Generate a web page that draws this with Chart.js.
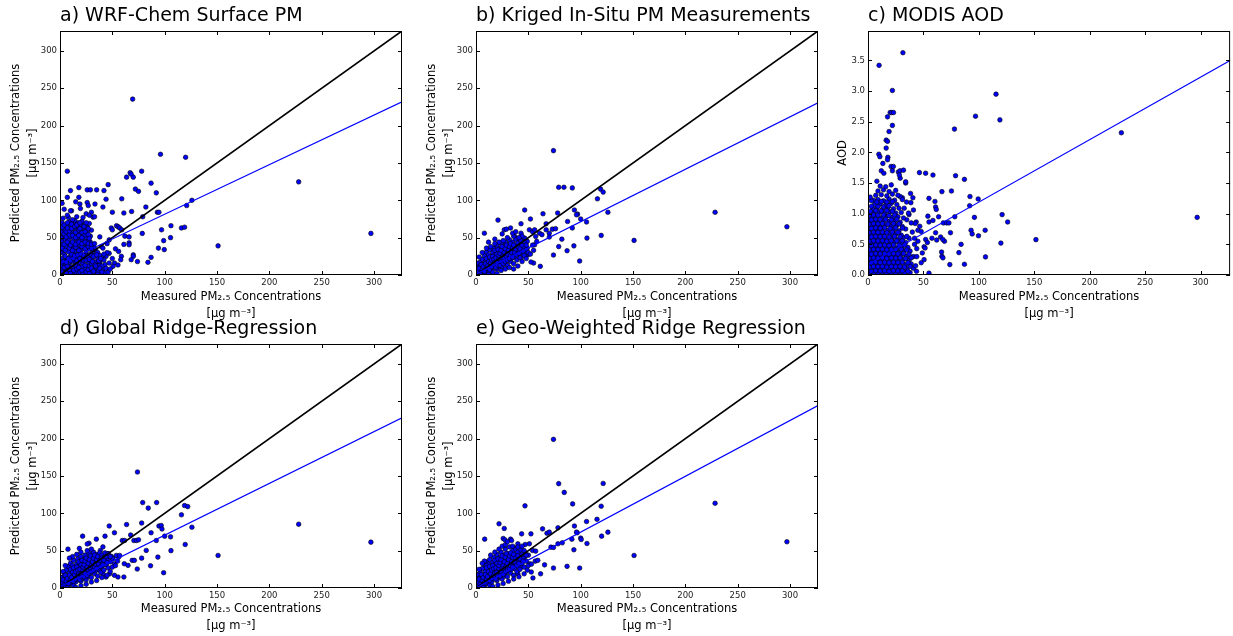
<!DOCTYPE html>
<html lang="en">
<head>
<meta charset="UTF-8">
<title>Measured vs predicted PM2.5</title>
<script src="https://cdn.jsdelivr.net/npm/chart.js"></script>
<style>
  body { margin: 0; background: #fff; }
  #figure { position: relative; width: 1233px; height: 636px; overflow: hidden; }
  #figure canvas { position: absolute; }
</style>
</head>
<body>
<div id="figure">
  <canvas id="panelA" width="408" height="322" style="left:0;top:0"></canvas>
  <canvas id="panelB" width="408" height="322" style="left:416px;top:0"></canvas>
  <canvas id="panelC" width="407" height="322" style="left:826px;top:0"></canvas>
  <canvas id="panelD" width="408" height="322" style="left:0;top:312px"></canvas>
  <canvas id="panelE" width="408" height="322" style="left:416px;top:312px"></canvas>
</div>
<script>
// axis limits (measured PM2.5 max * 1.1)
const X_MAX = 326.7;
const AOD_MAX = 3.98;
const pmTicks = [0, 50, 100, 150, 200, 250, 300];

// panel titles
const titles = ['a) WRF-Chem Surface PM', 'b) Kriged In-Situ PM Measurements', 'c) MODIS AOD',
                'd) Global Ridge-Regression', 'e) Geo-Weighted Ridge Regression'];

// fitted line: value at x = 0 and at x = X_MAX
const fitStart = [15, 1, 0.17, 1.5, 0];
const fitEnd = [232, 230.5, 3.5, 228, 244.4];

// [measured, predicted]
const wrfChem = [
  [69.4,235.5],[96,161.6],[120,157.6],[7,139],[67,137],[68,135],[70,131],[78,139],[63.6,131],[87,123],[46,121],
  [92,110],[72,115],[75,112],[10,113],[26,114],[29,114],[35,114],[42,113],[44,101.5],[18,104],[18,117],[59,102],
  [126,100],[121,93],[82,91],[41,91],[33.4,95],[93,84],[94.5,84],[50,84],[61,83],[68.4,85],[19,95],[19.5,89],[26,97],
  [27,93],[30,84],[31.5,77.5],[11,86],[8,77],[79,78],[97,60.5],[106,66],[116,63],[119,64],[54,66],[55.6,64.6],
  [57,63],[59,60.5],[49,63],[50,60.5],[62,52],[66,51],[66,43],[61,41],[66,40.5],[78.6,55.7],[53,35],[56,31.6],
  [58.6,25],[58,20.5],[38,51],[39.5,38],[99,46],[105.6,50],[94,36],[99.6,34],[70,27],[70,25],[68,20.5],[74,18],
  [84,17],[87,23.6],[151,39],[228,124.7],[297,55.7],[52,16],[55.4,13.4],[50.6,11.6],[44,25],[47,29],[41,23],
  [38,16],[43,14],[41,36],[45,42],[47,47],
  [1,2],[3,5],[5,1],[6,8],[8,3],[9,12],[11,6],[12,1],[14,9],[15,4],[17,13],[18,2],[20,7],[21,11],[23,3],[24,8],
  [26,1],[27,12],[29,5],[31,2],[33,9],[35,4],[37,13],[39,2],[41,7],[43,3],
  [2,15],[4,19],[6,14],[7,22],[9,17],[10,25],[12,18],[13,28],[15,16],[16,23],[18,29],[19,17],[21,24],[22,16],
  [24,21],[25,27],[27,18],[28,25],[30,15],[31,22],[33,27],[34,17],[36,22],[38,18],[40,25],
  [1,30],[3,34],[4,27],[6,38],[8,31],[9,42],[11,35],[13,39],[14,32],[16,44],[17,36],[19,40],[20,33],[22,45],
  [23,37],[25,32],[26,41],[28,35],[29,44],[31,31],[32,38],[34,34],
  [2,46],[3,52],[5,48],[7,55],[8,47],[10,51],[11,58],[13,49],[14,55],[16,60],[17,50],[19,56],[20,47],[22,53],
  [23,60],[25,50],[26,57],[27,46],[29,52],[30,60],
  [1,58],[3,63],[5,60],[6,67],[8,62],[10,66],[12,63],[13,69],[15,65],[17,70],[18,64],[20,68],[22,63],[24,67],
  [26,64],[28,69],[2,70],[9,71],[14,73],[21,72],
  [3,76],[7,80],[12,74],[16,78],[22,77],[25,82],[28,80],[4,88],[10,86],[2,96],[15,98],[33,78],[7,104],
  [0.5,0.5],[2,1],[1,8],[4,3],[7,5],[0.5,20],[0.5,40],[0.5,50],[0.5,12],
  [35,10],[37,6],[40,12],[42,20],[44,9],[46,4],[36,30],[38,26],[33,14],[45,30],[48,8],[50,22],[47,16],
  [2,4],[4,10],[6,3],[7,12],[9,7],[10,2],[12,11],[13,6],[15,13],[16,8],[18,10],[19,4],[21,6],[22,1],[24,13],
  [25,4],[27,7],[28,2],[30,9],[32,5],[34,12],[36,1],[38,9],[40,4],
  [1,22],[3,18],[5,25],[6,17],[8,22],[10,19],[11,28],[13,22],[14,26],[16,19],[17,27],[19,22],[20,28],[22,20],
  [23,26],[25,20],[26,25],[28,21],[29,28],[31,18],[32,25],[35,27],[37,19],[39,22],[42,28],
  [2,36],[4,41],[5,33],[7,44],[9,36],[10,40],[12,44],[12,33],[15,37],[15,41],[18,33],[18,44],[21,38],[21,42],
  [24,35],[24,44],[27,38],[27,42],[30,36],[30,41],[33,42],
  [1,50],[4,55],[6,51],[6,58],[9,54],[9,59],[12,53],[15,50],[15,57],[18,53],[18,60],[21,50],[21,57],[24,54],
  [24,58],[27,54],[28,49],
  [2,64],[4,67],[7,63],[7,70],[11,62],[11,68],[14,65],[16,67],[19,62],[19,70],[23,65],[25,70],[27,62]
];

const kriged = [
  [74,166.5],[79,117.5],[84,117.5],[92,116.6],[119,115],[121.5,111],[116,102],[46.5,87],[94,87],[97,81.5],
  [96,80.6],[100,75],[105.6,71],[126,84],[78,83],[64,82],[21,73.5],[52,75],[43,68.6],[27,60.5],[29,61.4],[33,63],
  [67,68.6],[67,60.5],[70,56],[70,50.8],[73,61.4],[76,62],[8,56],[87.5,71.7],[92,63],[82,48],[106,49.4],
  [119.6,53],[151,46.3],[228.4,84],[297,64.6],[79,38],[87,32.5],[93.5,39],[99,18.7],[74,26.7],[61.4,11.6],
  [55,16],[52.5,17.4],[56,40.5],[49,36],[51,60.5],[54,58],[57,51.6],[60.7,56],[63,54],[56,60.5],[43,56],
  [46.5,49.4],[41.7,47],[37,51.6],[39,48],[49.6,27],[48,29],[43,22.7],[30.5,36],[45,27],
  [0.5,1],[1,4],[2,0.5],[2,8],[3,3],[3,13],[4,6],[4,17],[5,1],[5,10],[6,4],[6,21],[7,14],[7,8],[8,2],[8,26],
  [9,11],[9,18],[10,5],[10,31],[11,15],[11,22],[12,9],[12,27],[13,3],[13,34],[14,13],[14,19],[15,24],[15,7],
  [16,30],[16,16],[17,36],[17,11],[18,21],[18,27],[19,14],[19,33],[20,8],[20,40],[21,19],[21,25],[22,30],
  [22,12],[23,36],[23,17],[24,43],[24,23],[25,28],[25,10],[26,33],[26,20],[27,38],[27,15],[28,25],[28,44],
  [29,30],[29,19],[30,35],[30,13],[31,40],[31,24],[32,28],[32,47],[33,18],[33,34],[34,38],[34,22],[35,44],
  [35,29],[36,15],[36,33],[37,40],[37,24],[38,48],[38,30],[39,20],[39,36],[40,43],[40,27],[41,33],[42,23],
  [42,40],[43,46],[44,30],[45,37],[46,26],[47,42],[48,34],[49,45],[50,30],[44,52],[41,50],[36,52],[30,50],
  [26,46],[22,44],[18,42],[14,38],[10,36],[6,30],[3,24],[1,16],[8,0.5],[12,1],[16,4],[20,2],[24,6],[28,8],
  [32,10],[36,8],[40,12],[44,18],[48,22],[52,28],[54,40],[58,45],[55,33],[3,0.5],[1,10],[0.5,6],[5,5],[2,3],
  [25,55],[35,56],[18,48],[12,44],[38,58],
  [1,2],[2,5],[3,9],[4,2],[5,14],[6,7],[7,11],[8,5],[9,15],[10,9],[10,22],[11,12],[12,18],[13,7],[13,24],
  [14,16],[15,11],[15,20],[16,25],[17,14],[17,21],[18,17],[18,33],[19,23],[19,10],[20,28],[20,17],[21,13],
  [21,34],[22,22],[22,26],[23,29],[23,13],[24,18],[24,33],[25,23],[25,38],[26,26],[26,15],[27,30],[27,22],
  [28,18],[28,35],[29,25],[29,40],[30,28],[30,20],[31,33],[32,22],[32,38],[33,26],[33,42],[34,30],[35,24],
  [35,36],[36,40],[37,30],[38,35],[39,27],[40,38],[41,29],[42,35],[44,40],[45,32],[46,45],[48,40]
];

// [measured, AOD]
const modisAod = [
  [31.5,3.626],[10,3.42],[22,3.01],[115.5,2.95],[97,2.59],[119,2.53],[78,2.38],[228.6,2.32],[20,2.65],
  [21.4,2.65],[23,2.65],[17.6,2.58],[22,2.44],[19,2.34],[16.4,2.2],[17.6,2.18],[16.4,2.07],[9.8,1.97],
  [10.7,1.93],[17.9,1.92],[17.6,1.88],[13.4,1.82],[12,1.7],[14.3,1.66],[20.8,1.77],[22.9,1.77],[22,1.7],
  [27.4,1.68],[28.9,1.7],[32,1.71],[29,1.58],[28.3,1.63],[34,1.5],[34,1.52],[46.4,1.67],[52,1.66],[58.6,1.63],
  [79,1.62],[87,1.56],[66.7,1.36],[75.3,1.37],[55,1.25],[38.4,1.33],[40.5,1.26],[92,1.28],[99.4,1.24],
  [60.4,1.2],[61,1.11],[61.6,1.07],[41,1.06],[91.7,1.13],[121,0.985],[126,0.865],[96,0.94],[78.3,0.95],
  [54,0.96],[63.7,0.95],[55,0.865],[58.6,0.89],[68,0.85],[71,0.85],[73,0.85],[74.4,0.69],[46.7,0.795],
  [45,0.73],[48,0.71],[43.5,0.865],[42.6,0.84],[61,0.69],[62,0.57],[57.7,0.6],[52,0.58],[53.6,0.53],
  [50.6,0.46],[51.5,0.44],[65.5,0.62],[69,0.55],[67.5,0.58],[93,0.73],[94,0.67],[99.7,0.64],[105.7,0.73],
  [119.9,0.52],[84,0.5],[82,0.365],[66.4,0.375],[66.7,0.305],[67.6,0.28],[106,0.295],[73.8,0.17],[87,0.175],
  [151.5,0.577],[297,0.94],[55,0.03],[49,0.36],[50.6,0.25],[43.8,0.06],[48,0.2],[44,0.43],[42,0.5],
  [37,0.985],[36.6,1.01],[32.7,1.09],[34.8,1.19],[31,1.26],[29,1.28],[38.7,1.18],
  [1,0.03],[5,0.04],[9,0.02],[13,0.05],[17,0.03],[21,0.04],[25,0.02],[29,0.05],[33,0.03],[38,0.04],
  [3,0.1],[7,0.11],[11,0.09],[15,0.12],[19,0.1],[23,0.11],[27,0.09],[31,0.12],[35,0.1],[41,0.11],
  [1,0.17],[5,0.18],[9,0.16],[13,0.19],[17,0.17],[21,0.18],[25,0.16],[29,0.19],[34,0.17],[39,0.18],
  [3,0.24],[7,0.25],[11,0.23],[15,0.26],[19,0.24],[23,0.25],[27,0.23],[32,0.26],[37,0.24],
  [1,0.31],[5,0.32],[9,0.3],[13,0.33],[17,0.31],[21,0.32],[25,0.3],[30,0.33],[35,0.31],[41,0.3],
  [3,0.38],[7,0.39],[11,0.37],[15,0.4],[19,0.38],[23,0.39],[28,0.37],[33,0.4],[38,0.39],
  [1,0.45],[5,0.46],[9,0.44],[13,0.47],[17,0.45],[21,0.46],[26,0.44],[31,0.47],[36,0.45],
  [3,0.52],[7,0.53],[11,0.51],[15,0.54],[19,0.52],[24,0.53],[29,0.51],[34,0.53],
  [1,0.59],[5,0.6],[9,0.58],[13,0.61],[17,0.59],[22,0.6],[27,0.58],[32,0.61],[37,0.6],
  [3,0.66],[7,0.67],[11,0.65],[15,0.68],[20,0.66],[25,0.67],[30,0.65],
  [1,0.73],[5,0.74],[9,0.72],[13,0.75],[18,0.73],[23,0.74],[28,0.72],[34,0.75],
  [3,0.8],[7,0.81],[11,0.79],[16,0.82],[21,0.8],[26,0.81],[31,0.79],
  [1,0.87],[5,0.88],[9,0.86],[14,0.89],[19,0.87],[24,0.88],[29,0.86],[35,0.9],
  [3,0.94],[7,0.95],[12,0.93],[17,0.96],[22,0.94],[27,0.95],[32,0.93],
  [5,1.01],[10,1.02],[15,1.0],[20,1.03],[25,1.01],[30,1.02],
  [4,1.08],[8,1.09],[13,1.07],[18,1.1],[23,1.08],[28,1.09],
  [6,1.15],[11,1.16],[16,1.14],[21,1.17],[26,1.15],
  [5,1.22],[9,1.23],[14,1.21],[19,1.24],[24,1.22],[31,1.23],
  [7,1.3],[12,1.31],[17,1.29],[22,1.32],[27,1.3],
  [9,1.37],[14,1.39],[19,1.36],[25,1.38],
  [11,1.45],[16,1.44],[21,1.47],[8,1.53],[3,1.21],[2,1.27],
  [43,0.15],[44,0.3],[42,0.6],[45,0.55],[40,0.7],[39,0.85],
  [3,0.06],[7,0.07],[11,0.065],[15,0.07],[19,0.06],[23,0.07],[27,0.065],[31,0.07],[36,0.06],
  [1,0.13],[5,0.14],[9,0.135],[13,0.14],[17,0.13],[21,0.14],[25,0.135],[29,0.14],[33,0.13],[38,0.14],
  [3,0.2],[7,0.21],[11,0.205],[15,0.21],[19,0.2],[23,0.21],[27,0.205],[31,0.21],[36,0.2],
  [1,0.27],[5,0.28],[9,0.275],[13,0.28],[17,0.27],[21,0.28],[25,0.275],[29,0.28],[34,0.27],[39,0.28],
  [3,0.34],[7,0.35],[11,0.345],[15,0.35],[19,0.34],[23,0.35],[27,0.345],[32,0.35],[37,0.34],
  [1,0.41],[5,0.42],[9,0.415],[13,0.42],[17,0.41],[21,0.42],[25,0.415],[30,0.42],[35,0.41],
  [3,0.48],[7,0.49],[11,0.485],[15,0.49],[19,0.48],[23,0.49],[28,0.485],[33,0.49],
  [1,0.55],[5,0.56],[9,0.555],[13,0.56],[17,0.55],[21,0.56],[26,0.555],[31,0.56],
  [3,0.62],[7,0.63],[11,0.625],[15,0.63],[19,0.62],[24,0.63],[29,0.625],[35,0.63],
  [1,0.69],[5,0.7],[9,0.695],[13,0.7],[17,0.69],[22,0.7],[27,0.695],
  [3,0.76],[7,0.77],[11,0.765],[15,0.77],[20,0.76],[25,0.77],[31,0.765],
  [1,0.83],[5,0.84],[9,0.835],[13,0.84],[18,0.83],[23,0.84],[28,0.835],
  [3,0.9],[7,0.91],[11,0.905],[16,0.91],[21,0.9],[26,0.91],
  [1,0.97],[5,0.98],[9,0.975],[14,0.98],[19,0.97],[24,0.98],
  [2,1.04],[7,1.05],[12,1.045],[17,1.05],[22,1.04],
  [3,1.12],[9,1.12],[14,1.11],[19,1.13],[8,1.19],[12,1.2],[17,1.19],[22,1.2]
];

const globalRidge = [
  [74,155.3],[79,114.4],[84.3,107],[92.3,114.4],[116,98],[119,110.4],[122,109],[47,83],[63.6,85],[78,87],
  [94.5,83],[96.7,83.7],[97.4,79],[100,69.4],[105.6,68.5],[126,81.4],[21.6,69.4],[52,74],[67.5,71],[70.6,63.6],
  [73,63.6],[75,64.5],[59.5,63.6],[61.7,63.6],[43,69.4],[34.7,65.4],[27.7,60],[26,59],[7.6,52],[18.5,53],
  [87,74],[92,63.6],[82.4,50.3],[106,50],[119.6,58.3],[151,43.6],[228,85.4],[297,61.4],[78,40],[93.5,41.4],
  [86.5,29.8],[73.8,25.4],[99,20.5],[69,37],[71,37],[61.4,32.5],[65,30.3],[52,17],[55.4,14.7],[61,14.7],
  [52,32.5],[50.6,39],[56,41.4],[45.8,46],[49,42.3],[53.8,43.6],[57,43.6],[38.5,50.3],[41,55],[38,23.6],
  [41,19],[44,14.7],[47.4,19],
  [0.5,1],[1,5],[2,0.5],[2,10],[3,3],[3,15],[4,7],[4,20],[5,1],[5,12],[6,4],[6,24],[7,16],[7,9],[8,2],[8,29],
  [9,12],[9,20],[10,6],[10,33],[11,16],[11,25],[12,9],[12,30],[13,3],[13,37],[14,14],[14,21],[15,26],[15,8],
  [16,32],[16,17],[17,39],[17,11],[18,22],[18,29],[19,15],[19,35],[20,9],[20,42],[21,20],[21,27],[22,32],
  [22,13],[23,38],[23,18],[24,44],[24,24],[25,30],[25,11],[26,35],[26,21],[27,40],[27,15],[28,26],[28,46],
  [29,31],[29,20],[30,37],[30,14],[31,42],[31,25],[32,29],[32,48],[33,19],[33,35],[34,39],[34,23],[35,45],
  [35,30],[36,16],[36,34],[37,41],[37,25],[38,47],[38,31],[39,21],[39,37],[40,44],[40,28],[41,34],[42,24],
  [42,41],[43,47],[44,31],[45,38],[46,27],[47,43],[48,35],[50,40],[50,28],[12,42],[16,45],[20,48],[26,50],
  [30,52],[5,30],[3,22],[1,14],[9,40],[15,1],[20,3],[25,5],[30,8],[35,10],[40,14],[45,17],[48,22],[53,30],
  [55,36],[1,0.5],[0.5,8],[4,2],[7,0.5],[2,6],
  [1,3],[2,7],[3,11],[4,4],[5,17],[6,9],[7,13],[8,6],[9,17],[10,11],[10,25],[11,14],[12,21],[13,9],[13,27],
  [14,18],[15,12],[15,22],[16,28],[17,16],[17,24],[18,19],[18,35],[19,25],[19,11],[20,31],[20,19],[21,15],
  [21,37],[22,24],[22,28],[23,31],[23,15],[24,20],[24,36],[25,25],[25,40],[26,28],[26,17],[27,33],[27,24],
  [28,20],[28,38],[29,27],[29,43],[30,30],[30,22],[31,35],[32,24],[32,40],[33,28],[33,44],[34,32],[35,26],
  [35,38],[36,42],[37,32],[38,37],[39,29],[40,40],[41,31],[42,37],[44,42],[45,34],[46,46],[48,42]
];

const geoRidge = [
  [74,199],[79,139.7],[121.5,140],[84.3,128],[92.3,112.6],[46.8,110],[119.6,109.5],[115.6,92],[105.6,89],
  [94,83],[78.3,80.6],[63.6,79.2],[22,86],[27,79.7],[26,66.3],[27.6,64.5],[43.6,72.5],[52.5,72.5],[67.8,73.4],
  [70,74.8],[33,65.4],[34,63.6],[8.3,65.4],[96.7,74],[96,74.8],[100,66.8],[126,74.8],[91.6,65.4],[100.5,65],
  [120,69.4],[106,59.6],[78.3,59.2],[82.4,60.5],[71.6,54.7],[74,54.3],[93.5,51.2],[151,43.6],[228.4,113.5],
  [297,61.9],[74,26.7],[87,29],[99,26.7],[65.5,31],[61.7,19],[54.4,13.4],[52.8,21.4],[51,32.5],[56.6,36],
  [59,37],[45,39],[46.5,41.4],[43,28],[40,19],[54,50.3],[57,49.4],[47,58.3],[51,59.2],[40,59.2],[37,53.8],
  [0.5,1],[1,6],[2,0.5],[2,11],[3,3],[3,16],[4,8],[4,21],[5,1],[5,13],[6,4],[6,26],[7,17],[7,10],[8,2],[8,31],
  [9,13],[9,22],[10,6],[10,35],[11,17],[11,27],[12,10],[12,32],[13,4],[13,38],[14,15],[14,22],[15,28],[15,8],
  [16,34],[16,19],[17,41],[17,12],[18,24],[18,31],[19,16],[19,37],[20,10],[20,45],[21,21],[21,29],[22,35],
  [22,14],[23,41],[23,19],[24,48],[24,26],[25,32],[25,12],[26,38],[26,22],[27,44],[27,16],[28,28],[28,52],
  [29,34],[29,21],[30,40],[30,15],[31,46],[31,27],[32,32],[32,55],[33,20],[33,38],[34,43],[34,25],[35,50],
  [35,31],[36,17],[36,37],[37,45],[37,26],[38,52],[38,33],[39,22],[39,40],[40,48],[40,29],[41,36],[42,25],
  [42,44],[43,51],[44,33],[45,41],[46,28],[47,47],[48,36],[50,44],[50,30],[8,36],[6,33],[10,30],[14,44],
  [18,48],[22,52],[25,56],[28,58],[30,62],[35,56],[40,55],[44,56],[3,25],[1,18],[16,2],[21,4],[26,6],[31,9],
  [36,12],[41,15],[46,19],[49,24],[53,32],[1,0.5],[0.5,9],[4,2],[7,0.5],[2,5],
  [1,3],[2,8],[3,12],[4,5],[5,18],[6,10],[7,14],[8,7],[9,18],[10,12],[10,27],[11,15],[12,22],[13,10],[13,29],
  [14,19],[15,13],[15,24],[16,30],[17,17],[17,26],[18,20],[18,37],[19,27],[19,12],[20,33],[20,21],[21,16],
  [21,39],[22,26],[22,30],[23,34],[23,16],[24,22],[24,38],[25,27],[25,43],[26,30],[26,18],[27,35],[27,26],
  [28,22],[28,41],[29,29],[29,46],[30,33],[30,24],[31,38],[32,26],[32,43],[33,30],[33,47],[34,35],[35,28],
  [35,41],[36,45],[37,35],[38,40],[39,31],[40,43],[41,33],[42,39],[44,45],[45,36],[46,50],[48,44]
];

const FONT = "'DejaVu Sans', sans-serif";
const xLabel = ['Measured PM\u2082.\u2085 Concentrations', '[\u03bcg m\u207b\u00b3]'];
const yLabelPM = ['Predicted PM\u2082.\u2085 Concentrations', '[\u03bcg m\u207b\u00b3]'];

// frame, inward ticks on all four sides and the left-aligned panel title
const panelFrame = {
  id: 'panelFrame',
  afterDatasetsDraw(chart, args, opts) {
    const { ctx, chartArea: a, scales: { x, y } } = chart;
    ctx.save();
    ctx.strokeStyle = '#000';
    ctx.lineWidth = 1;
    ctx.beginPath();
    x.ticks.forEach(t => {
      const px = Math.round(x.getPixelForValue(t.value)) + 0.5;
      ctx.moveTo(px, a.bottom); ctx.lineTo(px, a.bottom - 4);
      ctx.moveTo(px, a.top); ctx.lineTo(px, a.top + 4);
    });
    y.ticks.forEach(t => {
      const py = Math.round(y.getPixelForValue(t.value)) + 0.5;
      ctx.moveTo(a.left, py); ctx.lineTo(a.left + 4, py);
      ctx.moveTo(a.right, py); ctx.lineTo(a.right - 4, py);
    });
    ctx.stroke();
    ctx.strokeRect(a.left + 0.5, a.top + 0.5, a.right - a.left - 1, a.bottom - a.top - 1);
    ctx.fillStyle = '#000';
    ctx.font = '19px ' + FONT;
    ctx.textAlign = 'left';
    ctx.textBaseline = 'alphabetic';
    ctx.fillText(opts.text, a.left, a.top - 10.5);
    ctx.restore();
  }
};

function toPoints(pairs) {
  return pairs.map(p => ({ x: p[0], y: p[1] }));
}

function makePanel(id, i, pairs, cfg) {
  const datasets = [{
    data: [{ x: 0, y: fitStart[i] }, { x: X_MAX, y: fitEnd[i] }],
    showLine: true, borderColor: '#0000ff', borderWidth: 1.2, pointRadius: 0, clip: 0
  }];
  if (cfg.identity) {
    datasets.push({
      data: [{ x: 0, y: 0 }, { x: X_MAX, y: X_MAX }],
      showLine: true, borderColor: '#000', borderWidth: 1.7, pointRadius: 0, clip: 0
    });
  }
  datasets.push({
    data: toPoints(pairs),
    pointRadius: 2.3, pointHoverRadius: 2.3,
    pointBackgroundColor: '#0000ff', pointBorderColor: '#000', pointBorderWidth: 0.6,
    clip: 0
  });

  new Chart(document.getElementById(id), {
    type: 'scatter',
    data: { datasets },
    plugins: [panelFrame],
    options: {
      responsive: false,
      animation: false,
      devicePixelRatio: 1,
      layout: { padding: { top: cfg.padTop, right: cfg.padRight, left: 0, bottom: 0 } },
      plugins: {
        legend: { display: false },
        tooltip: { enabled: false },
        panelFrame: { text: titles[i] }
      },
      scales: {
        x: {
          type: 'linear', min: 0, max: X_MAX,
          grid: { display: false, drawTicks: false },
          border: { display: false },
          afterBuildTicks: s => { s.ticks = pmTicks.map(v => ({ value: v })); },
          ticks: { autoSkip: false, maxRotation: 0, padding: 3, color: '#222', font: { family: FONT, size: 8.5 } },
          title: { display: true, text: xLabel, color: '#000', padding: { top: 0, bottom: 0 },
                   font: { family: FONT, size: 11.5, lineHeight: 1.45 } },
          afterFit: s => { s.height = cfg.xHeight; }
        },
        y: {
          type: 'linear', min: 0, max: cfg.yMax,
          grid: { display: false, drawTicks: false },
          border: { display: false },
          afterBuildTicks: s => { s.ticks = cfg.yTicks.map(v => ({ value: v })); },
          ticks: { autoSkip: false, padding: 3, color: '#222', font: { family: FONT, size: 8.5 },
                   callback: cfg.yFormat },
          title: { display: true, text: cfg.yLabel, color: '#000', padding: { top: cfg.yTitlePad, bottom: 0 },
                   font: { family: FONT, size: 11.5, lineHeight: 1.5 } },
          afterFit: s => { s.width = cfg.yWidth; }
        }
      }
    }
  });
}

const pmPanel = (padTop, xHeight) => ({
  identity: true, padTop, padRight: 6, xHeight, yWidth: 60, yMax: X_MAX, yTicks: pmTicks,
  yFormat: v => v, yLabel: yLabelPM, yTitlePad: 7
});

makePanel('panelA', 0, wrfChem, pmPanel(31, 47));
makePanel('panelB', 1, kriged, pmPanel(31, 47));
makePanel('panelC', 2, modisAod, {
  identity: false, padTop: 31, padRight: 0, xHeight: 47, yWidth: 42, yMax: AOD_MAX,
  yTicks: [0, 0.5, 1, 1.5, 2, 2.5, 3, 3.5], yFormat: v => v.toFixed(1), yLabel: 'AOD', yTitlePad: 8
});
makePanel('panelD', 3, globalRidge, pmPanel(32, 46));
makePanel('panelE', 4, geoRidge, pmPanel(32, 46));
</script>
</body>
</html>
